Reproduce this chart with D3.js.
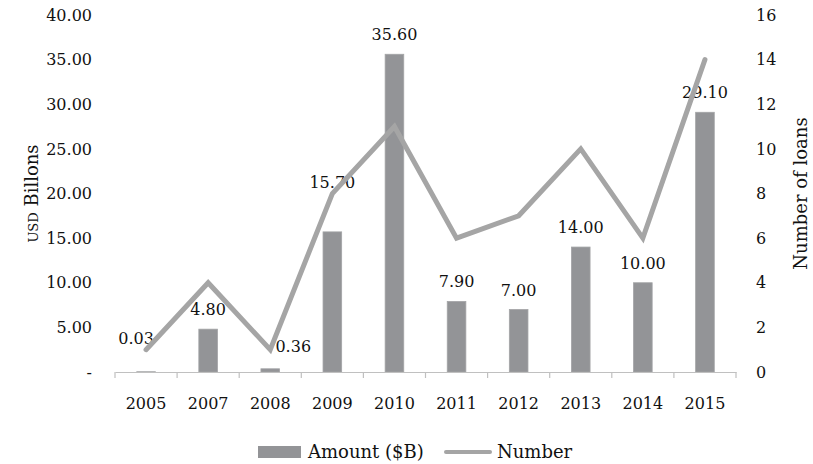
<!DOCTYPE html>
<html>
<head>
<meta charset="utf-8">
<script src="https://cdn.jsdelivr.net/npm/d3@7"></script>
<style>
body { margin: 0; background: #fff; }
text { font-family: "DejaVu Serif", Georgia, serif; fill: #111; }
</style>
</head>
<body>
<div id="canvas"></div>
<script>
const years = ["2005", "2007", "2008", "2009", "2010", "2011", "2012", "2013", "2014", "2015"];
const amounts = [0.03, 4.80, 0.36, 15.70, 35.60, 7.90, 7.00, 14.00, 10.00, 29.10];
const loans = [1, 4, 1, 8, 11, 6, 7, 10, 6, 14];
const leftTicks = [0, 5, 10, 15, 20, 25, 30, 35, 40];
const rightTicks = [0, 2, 4, 6, 8, 10, 12, 14, 16];
// hand moved data labels (dx, dy) like in the original
const labelNudge = [[-10, -14], [0, 0], [23, -3], [0, -30], [0, 0], [0, 0], [0, 0], [0, 0], [0, 0], [0, 0]];

const width = 813;
const height = 464;
const margin = { top: 15, left: 115, bottom: 92, right: 77 };
const iwidth = width - margin.left - margin.right;
const iheight = height - margin.top - margin.bottom;

const svg = d3.select("#canvas").append("svg")
    .attr("width", width)
    .attr("height", height);

const g = svg.append("g").attr("transform", `translate(${margin.left},${margin.top})`);

const x = d3.scaleBand()
    .domain(years)
    .range([0, iwidth])
    .padding(0.7)
    .paddingOuter(0.35);

const y = d3.scaleLinear().domain([0, 40]).range([iheight, 0]);
const y2 = d3.scaleLinear().domain([0, 16]).range([iheight, 0]);

const step = iwidth / years.length;
const cx = d => x(d) + x.bandwidth() / 2;

// bars
g.selectAll("rect.bar").data(years).enter().append("rect")
    .attr("class", "bar")
    .attr("x", d => x(d))
    .attr("y", (d, i) => y(amounts[i]))
    .attr("width", x.bandwidth())
    .attr("height", (d, i) => iheight - y(amounts[i]))
    .style("fill", "#939497")
    .style("stroke", "#a3a4a6")
    .style("stroke-width", 0.8);

// x axis
const xAxis = g.append("g")
    .attr("transform", `translate(0,${iheight})`)
    .call(d3.axisBottom(x).tickSize(0).tickPadding(26));
xAxis.select(".domain").attr("stroke", "#c0c0c0").attr("stroke-width", 1.2);
xAxis.selectAll("text").style("font-size", "16px").style("fill", "#111");

g.selectAll("line.xtick").data(d3.range(years.length + 1)).enter().append("line")
    .attr("class", "xtick")
    .attr("x1", i => i * step)
    .attr("x2", i => i * step)
    .attr("y1", iheight)
    .attr("y2", iheight + 6)
    .attr("stroke", "#c0c0c0")
    .attr("stroke-width", 1.2);

// left axis
const yAxis = g.append("g")
    .call(d3.axisLeft(y).tickValues(leftTicks).tickSize(0).tickPadding(23)
        .tickFormat(d => d === 0 ? "-" : d3.format(".2f")(d)));
yAxis.select(".domain").remove();
yAxis.selectAll("text").style("font-size", "16px").style("fill", "#111");

// right axis
const yAxis2 = g.append("g")
    .attr("transform", `translate(${iwidth},0)`)
    .call(d3.axisRight(y2).tickValues(rightTicks).tickSize(0).tickPadding(20));
yAxis2.select(".domain").remove();
yAxis2.selectAll("text").style("font-size", "16px").style("fill", "#111");

// data labels
g.selectAll("text.lbl").data(years).enter().append("text")
    .attr("class", "lbl")
    .attr("x", (d, i) => cx(d) + labelNudge[i][0])
    .attr("y", (d, i) => y(amounts[i]) - 14 + labelNudge[i][1])
    .attr("text-anchor", "middle")
    .style("font-size", "16px")
    .text((d, i) => d3.format(".2f")(amounts[i]));

// line
const line = d3.line()
    .x(d => cx(d))
    .y((d, i) => y2(loans[i]));

g.append("path")
    .datum(years)
    .attr("d", line)
    .attr("fill", "none")
    .attr("stroke", "#a5a5a5")
    .attr("stroke-width", 5)
    .attr("stroke-linecap", "round");

// axis titles
svg.append("text")
    .attr("transform", `translate(38,${margin.top + iheight / 2}) rotate(-90)`)
    .attr("text-anchor", "middle")
    .style("font-size", "18px")
    .html('<tspan style="font-size:13px">USD</tspan> Billons');

svg.append("text")
    .attr("transform", `translate(807,${margin.top + iheight / 2}) rotate(-90)`)
    .attr("text-anchor", "middle")
    .style("font-size", "18px")
    .text("Number of loans");

// legend
const legend = svg.append("g").attr("transform", "translate(258,452)");
legend.append("rect")
    .attr("x", 0).attr("y", -6)
    .attr("width", 43).attr("height", 12)
    .style("fill", "#939497");
legend.append("text")
    .attr("x", 50).attr("y", 6)
    .style("font-size", "18px")
    .text("Amount ($B)");
legend.append("line")
    .attr("x1", 188).attr("x2", 232)
    .attr("y1", 0).attr("y2", 0)
    .attr("stroke", "#a5a5a5")
    .attr("stroke-width", 4)
    .attr("stroke-linecap", "round");
legend.append("text")
    .attr("x", 239).attr("y", 6)
    .style("font-size", "18px")
    .text("Number");
</script>
</body>
</html>
